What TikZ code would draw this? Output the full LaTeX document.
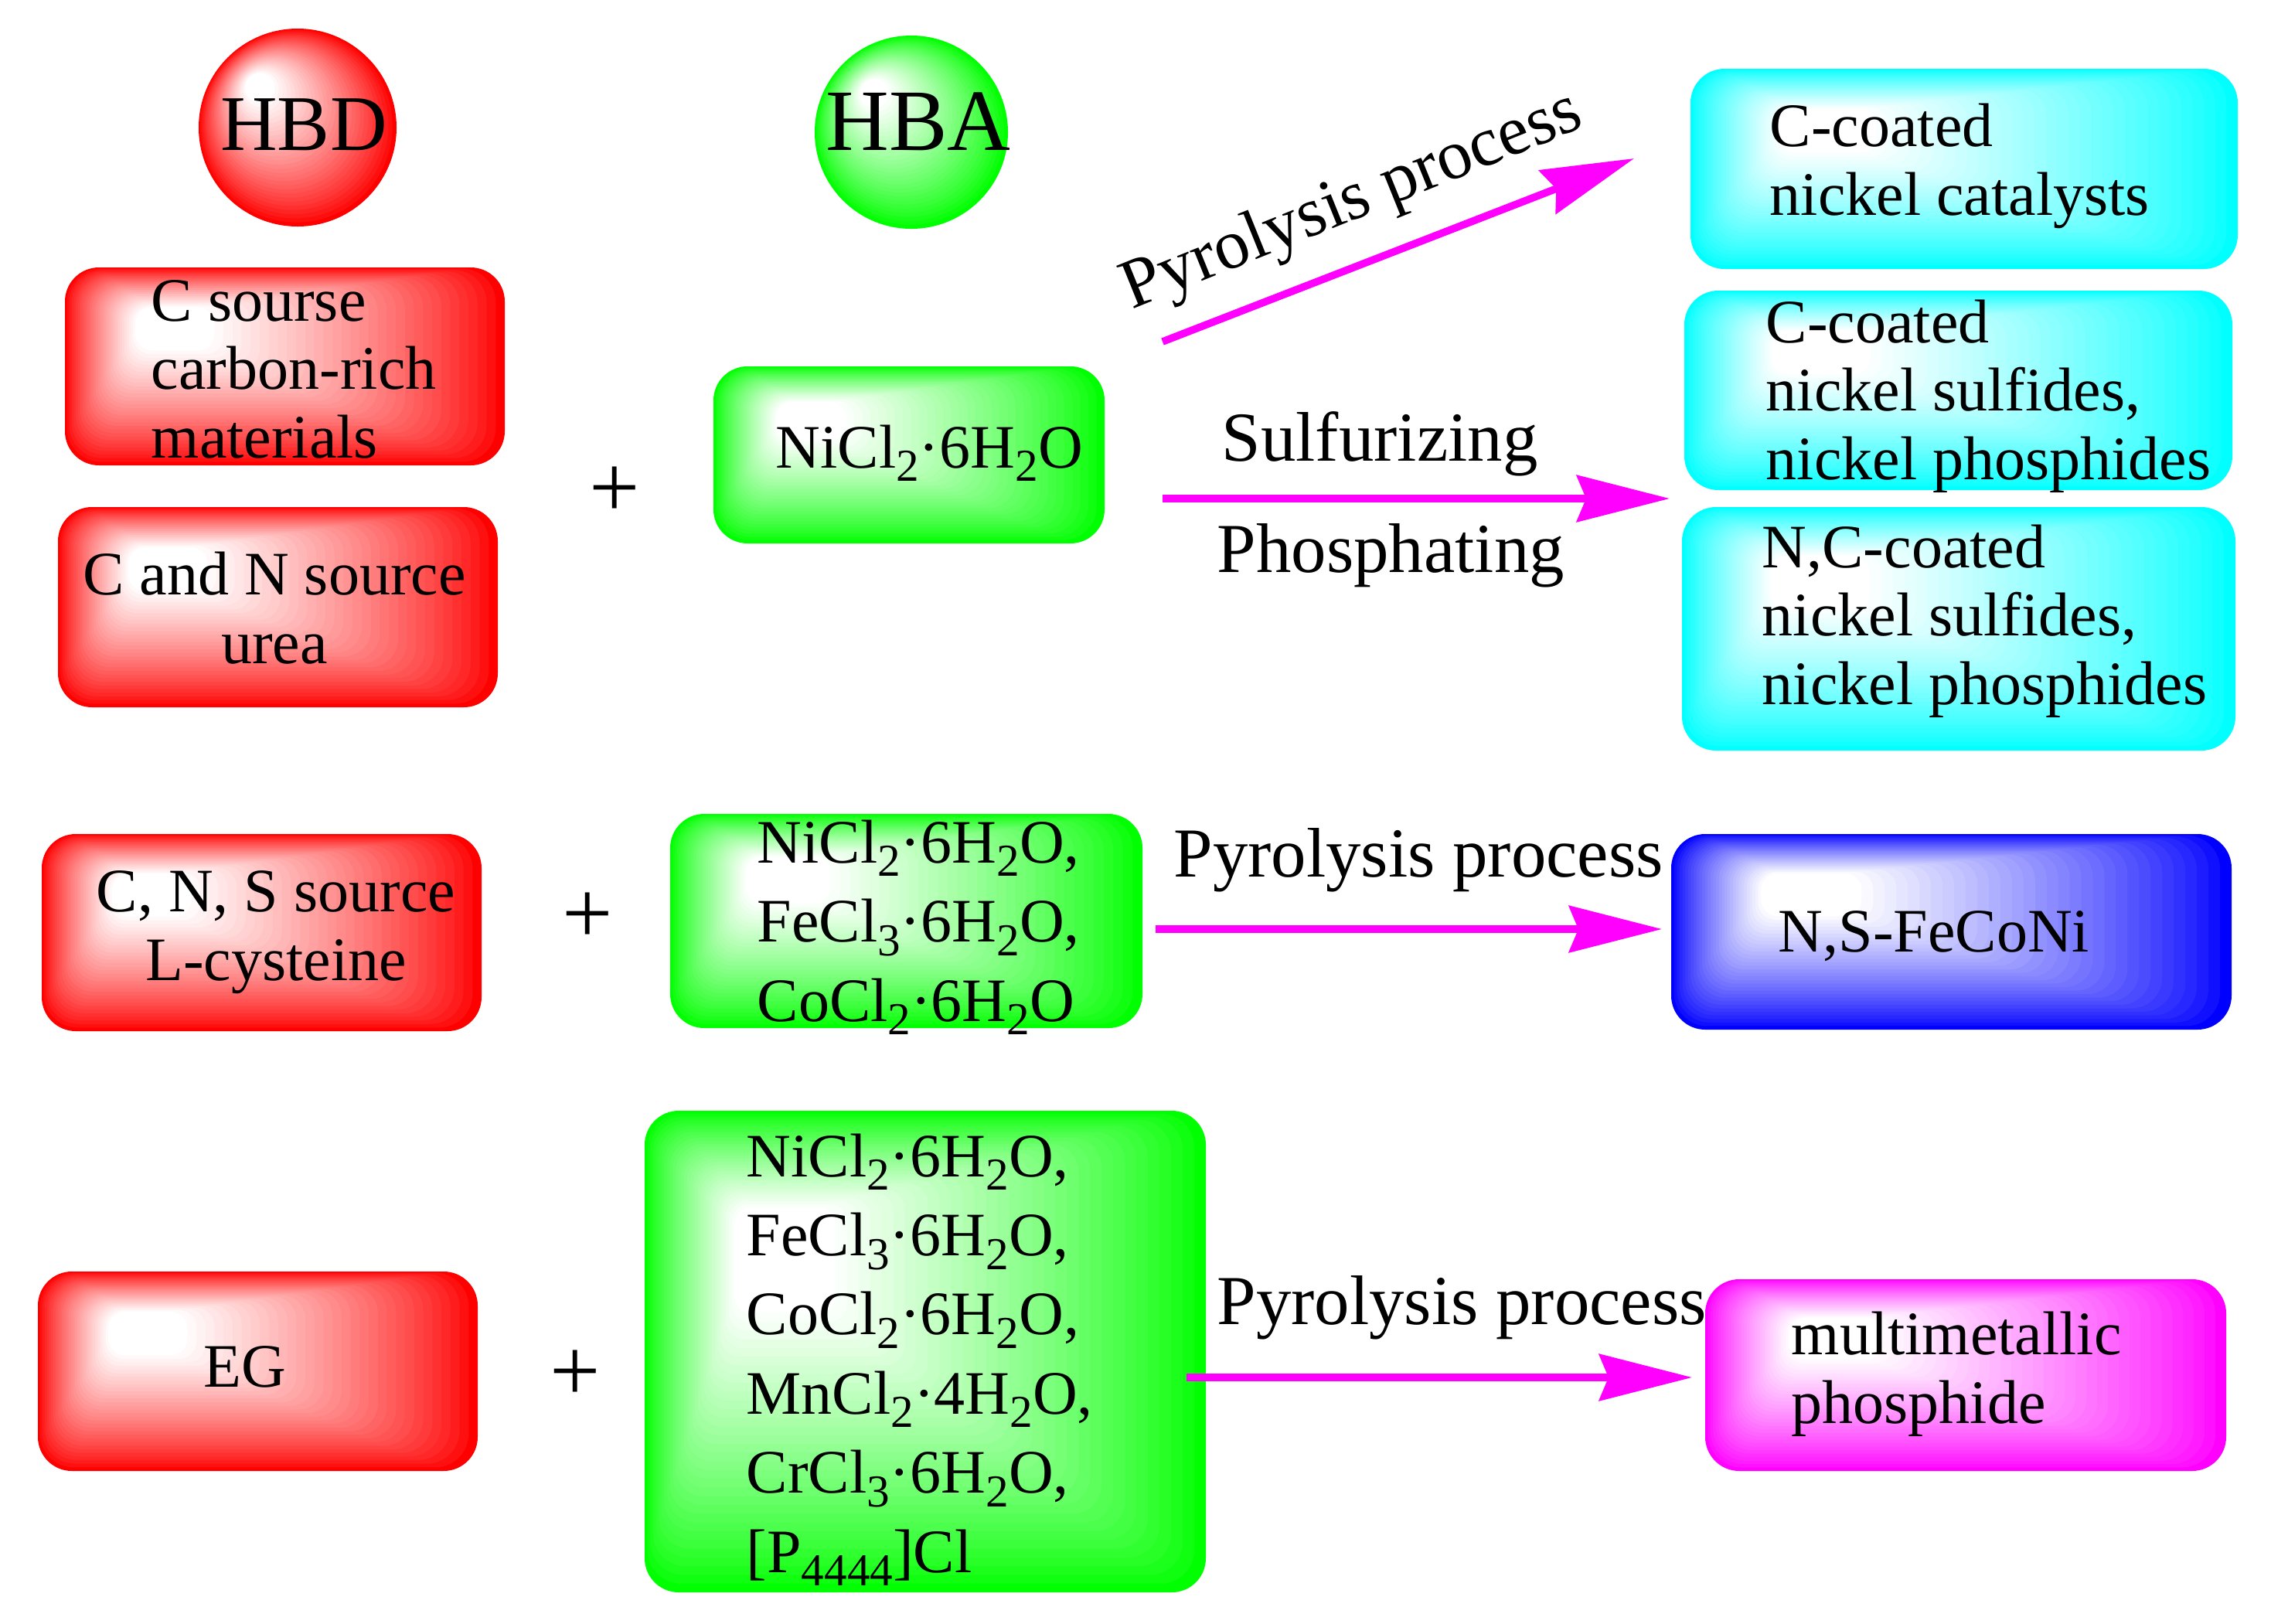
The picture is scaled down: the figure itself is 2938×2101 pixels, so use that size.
\documentclass[tikz,border=0pt]{standalone}
\usepackage{fontspec}
\setmainfont{Liberation Serif}
\usepackage{graphicx}
\usetikzlibrary{arrows.meta,fit,calc}

\definecolor{hred}{RGB}{255,0,0}
\definecolor{hgreen}{RGB}{0,255,0}
\definecolor{hcyan}{RGB}{0,255,255}
\definecolor{hblue}{RGB}{0,0,255}
\definecolor{hmag}{RGB}{255,0,255}

\newcommand{\sbs}[1]{\raisebox{-4.4pt}{\fontsize{14.8}{14.8}\selectfont #1}}

% gradient rounded box: name, colour, x1, y1, x2, y2 (y downwards)
\newcommand{\gbox}[6]{%
  \foreach \i in {0,...,32}{%
    \pgfmathsetmacro\gT{\i/32}%
    \pgfmathsetmacro\gP{100*(\gT^0.8)}%
    \pgfmathsetmacro\gax{#3+\gT*0.16*(#5-#3)}%
    \pgfmathsetmacro\gbx{#5-\gT*0.66*(#5-#3)}%
    \pgfmathsetmacro\gay{#4+\gT*0.2*(#6-#4)}%
    \pgfmathsetmacro\gby{#6-\gT*0.58*(#6-#4)}%
    \pgfmathsetmacro\grr{11*(1-0.5*\gT)}%
    \fill[white!\gP!#2, rounded corners=\grr pt] (\gax,\gay) rectangle (\gbx,\gby);
  }
  \node[fit={(#3,#4) (#5,#6)}, inner sep=0pt] (#1) {};
}
% gradient ball: name, colour, cx, cy, r
\newcommand{\gball}[5]{%
  \foreach \i in {0,...,30}{%
    \pgfmathsetmacro\gT{\i/30}%
    \pgfmathsetmacro\gP{100*(\gT^0.85)}%
    \pgfmathsetmacro\gcx{#3-\gT*0.38*#5}%
    \pgfmathsetmacro\gcy{#4-\gT*0.4*#5}%
    \pgfmathsetmacro\grr{#5*(1-0.85*\gT)*0.25}%
    \fill[white!\gP!#2] (\gcx,\gcy) circle[radius=\grr pt];
  }
  \node[circle, inner sep=0pt, minimum size={2*#5*0.25pt}] (#1) at (#3,#4) {};
}

\tikzset{
  bt/.style={font=\fontsize{20}{22.1}\selectfont, inner sep=0pt, anchor=base west, align=left},
  btc/.style={font=\fontsize{20}{22.1}\selectfont, inner sep=0pt, anchor=base, align=center},
  ft/.style={font=\fontsize{20}{25.6}\selectfont, inner sep=0pt, anchor=base west, align=left},
  arrlbl/.style={font=\fontsize{22.7}{26}\selectfont, inner sep=0pt, anchor=base west},
  plus/.style={font=\fontsize{29}{29}\selectfont, inner sep=0pt},
  arr/.style={draw=hmag, line width=2.4pt, -{Stealth[length=30pt,width=15pt,inset=3pt]}},
}

\begin{document}
\begin{tikzpicture}[x=0.25pt, y=-0.25pt]
\useasboundingbox (0,0) rectangle (2938,2101);

% header balls
\gball{hbd}{hred}{385}{165}{128}
\gball{hba}{hgreen}{1179}{171}{125}
\node[font=\fontsize{25.5}{28}\selectfont, inner sep=0pt, anchor=base] (hbdt) at (393,194) {HBD};
\node[font=\fontsize{28.3}{30}\selectfont, inner sep=0pt, anchor=base] (hbat) at (1188,194) {HBA};

% boxes
\gbox{r1}{hred}{84}{346}{653}{602}
\gbox{r2}{hred}{75}{656}{644}{915}
\gbox{r3}{hred}{54}{1079}{623}{1334}
\gbox{r4}{hred}{49}{1645}{618}{1903}
\gbox{g1}{hgreen}{923}{474}{1429}{703}
\gbox{g2}{hgreen}{867}{1053}{1478}{1330}
\gbox{g3}{hgreen}{834}{1437}{1560}{2060}
\gbox{c1}{hcyan}{2187}{89}{2895}{348}
\gbox{c2}{hcyan}{2179}{376}{2888}{634}
\gbox{c3}{hcyan}{2176}{656}{2892}{971}
\gbox{b1}{hblue}{2162}{1079}{2887}{1332}
\gbox{m1}{hmag}{2206}{1655}{2880}{1903}

% texts (anchor = baseline of the last line)
\node[bt] (t1) at (195,592) {C sourse\\carbon-rich\\materials};
\node[btc] (t2) at (355,858) {C and N source\\urea};
\node[ft] (t3) at (1003,605) {NiCl\sbs{2}·6H\sbs{2}O};
\node[bt] (t7) at (2289,278) {C-coated\\nickel catalysts};
\node[bt] (t8) at (2284,620) {C-coated\\nickel sulfides,\\nickel phosphides};
\node[bt] (t9) at (2279,911) {N,C-coated\\nickel sulfides,\\nickel phosphides};
\node[btc] (t10) at (357,1268) {C, N, S source\\L-cysteine};
\node[ft] (t11) at (979,1321) {NiCl\sbs{2}·6H\sbs{2}O,\\FeCl\sbs{3}·6H\sbs{2}O,\\CoCl\sbs{2}·6H\sbs{2}O};
\node[bt] (t13) at (2300,1231) {N,S-FeCoNi};
\node[btc] (t14) at (317,1794) {EG};
\node[ft] (t15) at (965,2034) {NiCl\sbs{2}·6H\sbs{2}O,\\FeCl\sbs{3}·6H\sbs{2}O,\\CoCl\sbs{2}·6H\sbs{2}O,\\MnCl\sbs{2}·4H\sbs{2}O,\\CrCl\sbs{3}·6H\sbs{2}O,\\{[}P\sbs{4444}{]}Cl};
\node[bt] (t17) at (2317,1841) {multimetallic\\phosphide};

% plus signs
\node[plus] (pl1) at (795,637) {+};
\node[plus] (pl2) at (760,1188) {+};
\node[plus] (pl3) at (744,1780) {+};

% arrow labels
\node[arrlbl, rotate=22] (l1) at (1464,401) {Pyrolysis process};
\node[arrlbl] (l2) at (1580,596) {Sulfurizing};
\node[arrlbl] (l3) at (1574,740) {Phosphating};
\node[arrlbl] (l4) at (1518,1134) {Pyrolysis process};
\node[arrlbl] (l5) at (1574,1713) {Pyrolysis process};

% arrows
\coordinate (a1s) at (1504,442);
\coordinate (a1e) at (2114,205);
\coordinate (a2s) at (1504,645);
\coordinate (a2e) at (2160,645);
\coordinate (a3s) at (1495,1202);
\coordinate (a3e) at (2150,1202);
\coordinate (a4s) at (1535,1782);
\coordinate (a4e) at (2189,1782);
\draw[arr] (a1s) -- (a1e);
\draw[arr] (a2s) -- (a2e);
\draw[arr] (a3s) -- (a3e);
\draw[arr] (a4s) -- (a4e);
\end{tikzpicture}
\end{document}
